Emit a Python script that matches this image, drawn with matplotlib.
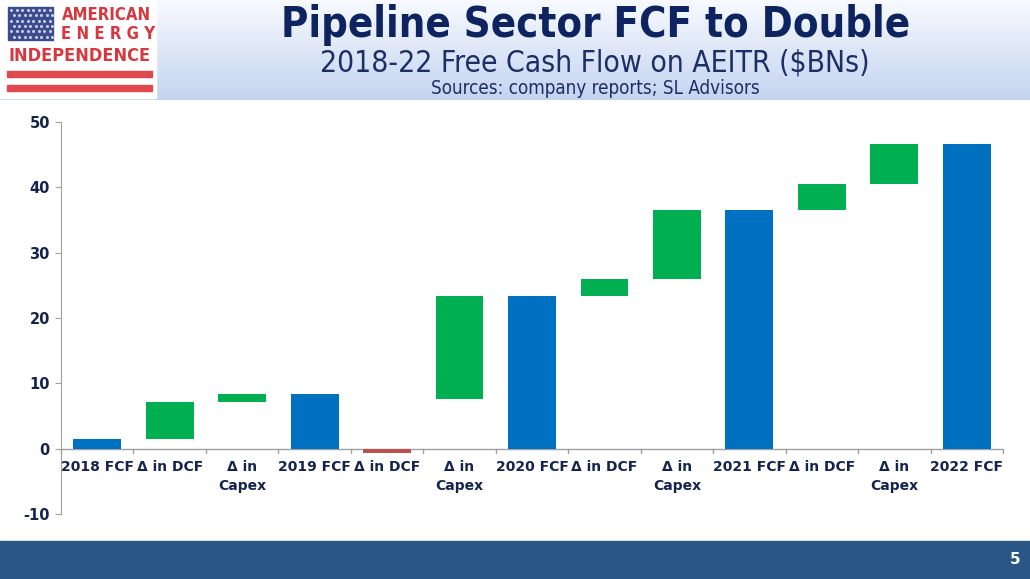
import matplotlib
matplotlib.use('Agg')
import matplotlib.pyplot as plt
import matplotlib.patches as mpatches
import numpy as np

# waterfall data ($BNs)
categories = ['2018 FCF', 'Δ in DCF', 'Δ in\nCapex', '2019 FCF', 'Δ in DCF', 'Δ in\nCapex',
              '2020 FCF', 'Δ in DCF', 'Δ in\nCapex', '2021 FCF', 'Δ in DCF', 'Δ in\nCapex',
              '2022 FCF']
bar_bottom = [0, 1.5, 7.2, 0, 0, 7.6, 0, 23.3, 26.0, 0, 36.5, 40.5, 0]
bar_height = [1.5, 5.7, 1.1, 8.3, -0.7, 15.7, 23.3, 2.7, 10.5, 36.5, 4.0, 6.2, 46.7]
bar_kind = ['total', 'up', 'up', 'total', 'down', 'up', 'total', 'up', 'up', 'total', 'up', 'up', 'total']
y_ticks = [-10, 0, 10, 20, 30, 40, 50]

colors = {'total': '#0070C0', 'up': '#00B050', 'down': '#C0504D'}
navy = '#14244F'

fig = plt.figure(figsize=(10.3, 5.79), dpi=100)

# header gradient
bg = fig.add_axes([0, 0, 1, 1], zorder=-5)
bg.set_xlim(0, 1030)
bg.set_ylim(579, 0)
bg.axis('off')
grad = np.linspace(0, 1, 100).reshape(-1, 1)
top = np.array([0.97, 0.98, 1.0])
bot = np.array([0.77, 0.83, 0.94])
img = top + grad[..., None] * (bot - top)
img = np.repeat(img, 2, axis=1)
bg.imshow(img, extent=[0, 1030, 100, 0], aspect='auto')
bg.add_patch(mpatches.Rectangle((0, 541), 1030, 38, color='#285785'))
bg.text(1015, 560, '5', color='white', fontsize=11, fontweight='bold', ha='center', va='center')

# logo
bg.add_patch(mpatches.Rectangle((0, 0), 156, 98, color='white'))
bg.add_patch(mpatches.Rectangle((8, 7), 45, 33, color='#3A4C8E'))
for r in range(6):
    for c in range(8):
        bg.plot(11 + c * 5.5 + (r % 2) * 2.5, 10 + r * 5.3, 'o', color='#C8CCE0', ms=1.2)
logo_red = '#D7373E'
bg.text(106, 15, 'AMERICAN', color=logo_red, fontsize=12, fontweight='bold',
        fontstretch='condensed', ha='center', va='center')
bg.text(108, 34, 'E N E R G Y', color=logo_red, fontsize=12, fontweight='bold',
        fontstretch='condensed', ha='center', va='center')
bg.text(80, 56, 'INDEPENDENCE', color=logo_red, fontsize=13, fontweight='bold',
        fontstretch='condensed', ha='center', va='center')
bg.add_patch(mpatches.Rectangle((7, 71), 145, 6, color='#E04A4E'))
bg.add_patch(mpatches.Rectangle((7, 85), 145, 6, color='#E04A4E'))

# titles
bg.text(596, 25, 'Pipeline Sector FCF to Double', color='#0E2460', fontsize=30,
        fontweight='bold', fontstretch='condensed', ha='center', va='center')
bg.text(595, 63, '2018-22 Free Cash Flow on AEITR ($BNs)', color='#1B2F66', fontsize=21.5,
        fontstretch='condensed', ha='center', va='center')
bg.text(595, 89, 'Sources: company reports; SL Advisors', color='#1B2F66', fontsize=13.5,
        fontstretch='condensed', ha='center', va='center')

# chart
ax = fig.add_axes([61 / 1030, 1 - 514 / 579, 942 / 1030, 392 / 579])
x = np.arange(len(categories))
ax.bar(x, bar_height, bottom=bar_bottom, width=0.66,
       color=[colors[k] for k in bar_kind], zorder=3)
ax.set_xlim(-0.5, len(categories) - 0.5)
ax.set_ylim(-10, 50)
ax.set_yticks(y_ticks)
ax.set_yticklabels([str(t) for t in y_ticks], fontsize=10.5, fontweight='bold', color=navy)
ax.tick_params(axis='y', length=4, color='#A0A0A0', pad=4)
ax.set_xticks([])
for s in ['top', 'right', 'bottom']:
    ax.spines[s].set_visible(False)
ax.spines['left'].set_color('#A0A0A0')
ax.axhline(0, color='#A0A0A0', lw=1, zorder=2)
for b in np.arange(-0.5, len(categories), 1.0):
    ax.plot([b, b], [0, -0.6], color='#A0A0A0', lw=1, clip_on=False)
for i, lab in enumerate(categories):
    ax.text(i, -1.7, lab, ha='center', va='top', fontsize=10, fontweight='bold',
            color=navy, linespacing=1.45)

fig.savefig('out.png', dpi=100)
